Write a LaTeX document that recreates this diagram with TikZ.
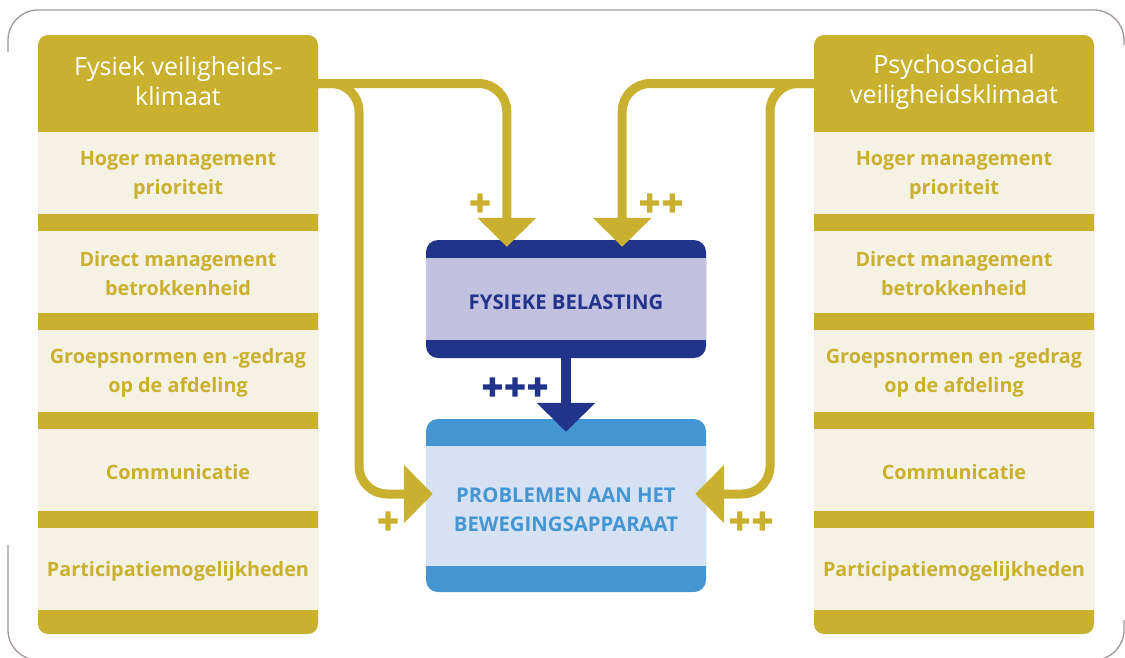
\documentclass[tikz,border=0pt]{standalone}
\usepackage{fontspec}
\setmainfont{Open Sans}
\newfontfamily\plusfont[BoldFeatures={FakeBold=8}]{DejaVu Sans}
\usetikzlibrary{arrows.meta,calc}
\definecolor{gold}{HTML}{C9B12F}
\definecolor{cream}{HTML}{F5F1E3}
\definecolor{navy}{HTML}{22338A}
\definecolor{lav}{HTML}{C2C2E0}
\definecolor{skyband}{HTML}{4496D3}
\definecolor{skyfill}{HTML}{D6E2F3}
\definecolor{framegray}{HTML}{A0979C}
\tikzset{
  rowtext/.style={inner sep=0pt, text=gold, align=center,
    font=\bfseries\fontsize{19.8}{29}\selectfont},
  headbox/.style={inner sep=0pt, text=white, align=center,
    font=\fontsize{25}{30}\selectfont},
  garrow/.style={draw=gold, line width=9pt, rounded corners=28pt,
    -{Triangle[width=57pt,length=29pt]}},
  narrowline/.style={draw=navy, line width=10pt,
    -{Triangle[width=57pt,length=29pt]}},
  plussign/.style={font=\plusfont\bfseries\fontsize{27}{27}\selectfont, inner sep=0pt},
  centertext/.style={font=\bfseries\fontsize{20.3}{29}\selectfont, align=center, inner sep=0pt}
}
\begin{document}
\begin{tikzpicture}[x=1pt,y=-1pt]
\useasboundingbox (0,0) rectangle (1125,657);
% frame
\draw[framegray, line width=1.3pt, rounded corners=30pt] (8,52) |- (1124,10) -- (1124,45);
\draw[framegray, line width=1.3pt, rounded corners=30pt] (8,545) |- (1124,660) -- (1124,620);
% columns
\foreach \cx in {38,814}{
  \fill[gold, rounded corners=10pt] (\cx,35) rectangle (\cx+280,634);
  \foreach \ry in {132,231,330,429,528}
    \fill[cream] (\cx,\ry) rectangle (\cx+280,\ry+82);
}
% left column texts
\node[headbox] (lh) at (178,81.5) {Fysiek veiligheids-\\klimaat};
\coordinate (lhe) at (318,83.5);
\node[rowtext] (l1) at (178,175) {Hoger management\\prioriteit};
\node[rowtext] (l2) at (178,274) {Direct management\\betrokkenheid};
\node[rowtext] (l3) at (178,373) {Groepsnormen en -gedrag\\op de afdeling};
\node[rowtext] (l4) at (178,472) {Communicatie};
\node[rowtext] (l5) at (178,571) {Participatiemogelijkheden};
% right column texts
\node[headbox] (rh) at (954,81.5) {Psychosociaal\\veiligheidsklimaat};
\coordinate (rhw) at (814,83.5);
\node[rowtext] (r1) at (954,175) {Hoger management\\prioriteit};
\node[rowtext] (r2) at (954,274) {Direct management\\betrokkenheid};
\node[rowtext] (r3) at (954,373) {Groepsnormen en -gedrag\\op de afdeling};
\node[rowtext] (r4) at (954,472) {Communicatie};
\node[rowtext] (r5) at (954,571) {Participatiemogelijkheden};
% center top box
\node[fill=navy, rounded corners=12pt, minimum width=280pt, minimum height=118pt, inner sep=0pt] (fb) at (566,299) {};
\fill[lav] ($(fb.north west)+(0,18)$) rectangle ($(fb.south east)+(0,-18)$);
\node[centertext, text=navy] (fbt) at (566,302) {FYSIEKE BELASTING};
% center bottom box
\node[fill=skyband, rounded corners=12pt, minimum width=280pt, minimum height=173pt, inner sep=0pt] (pb) at (566,505.5) {};
\fill[skyfill] ($(pb.north west)+(0,27)$) rectangle ($(pb.south east)+(0,-26)$);
\node[centertext, text=skyband] (pbt) at (566,509.5) {PROBLEMEN AAN HET\\BEWEGINGSAPPARAAT};
% connectors
\coordinate (bl) at (359,494);
\coordinate (br) at (770,494);
\draw[garrow] (lhe) -| ($(fb.north west)+(81,7)$);
\draw[garrow] (lhe) -| (bl) -- ($(pb.west)+(7,-11.5)$);
\draw[garrow] (rhw) -| ($(fb.north east)+(-84,7)$);
\draw[garrow] (rhw) -| (br) -- ($(pb.east)+(-11,-11.5)$);
\draw[narrowline] (fb.south) -- ($(pb.north)+(0,13)$);
% labels
\node[plussign, text=gold] (p1) at (480,203) {+};
\node[plussign, text=gold] (p2) at (661,203) {++};
\node[plussign, text=navy] (p3) at (515,387) {+++};
\node[plussign, text=gold] (p4) at (388,521) {+};
\node[plussign, text=gold] (p5) at (751,521) {++};
\end{tikzpicture}
\end{document}
